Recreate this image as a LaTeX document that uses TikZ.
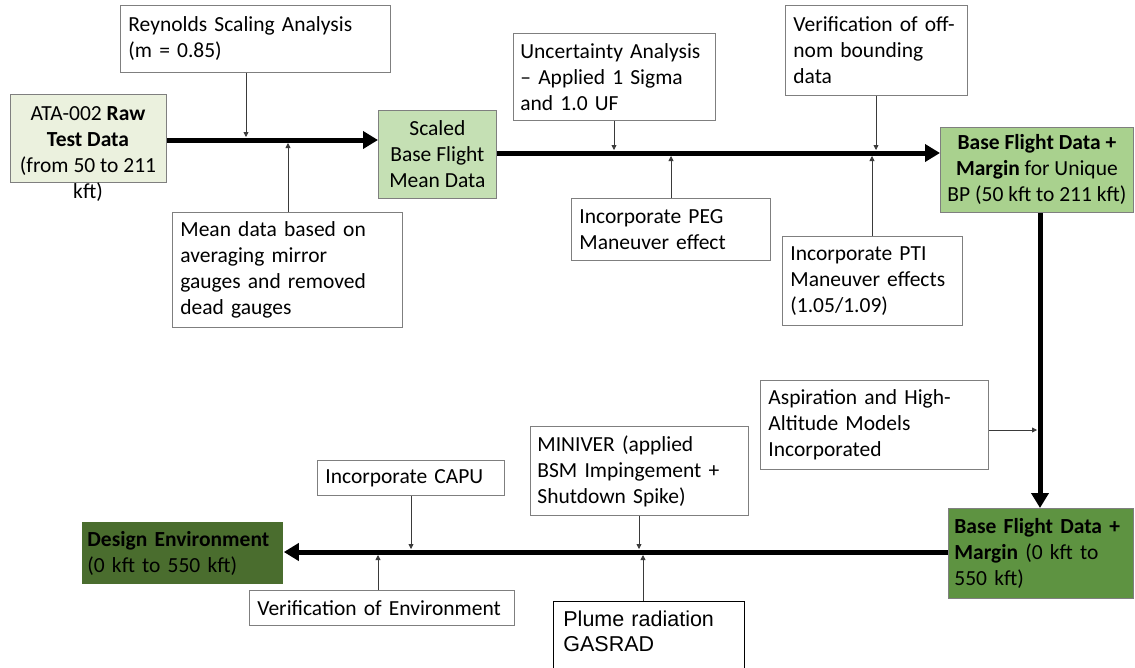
\documentclass[tikz,border=0pt]{standalone}
\usepackage{fontspec}
\setmainfont{Carlito}
\newfontfamily\arialf{Liberation Sans}
\usetikzlibrary{arrows.meta}
\definecolor{bgray}{HTML}{7F7F7F}
\definecolor{lgreen}{HTML}{EBF1DE}
\definecolor{sgreen}{HTML}{C5E0B4}
\definecolor{bgreen}{HTML}{A9D18E}
\definecolor{mgreen}{HTML}{5E9341}
\definecolor{dgreen}{HTML}{4A6D2E}
\definecolor{thin}{HTML}{3A3A3A}
\tikzset{
  wbox/.style={draw=bgray, fill=white, line width=0.8pt, inner xsep=8pt, inner ysep=0pt, align=left, anchor=north west},
  gbox/.style={draw=bgray, line width=0.8pt, inner xsep=6pt, inner ysep=0pt, anchor=north west},
  thinarrow/.style={draw=thin, line width=0.8pt, -{Triangle[length=5pt,width=5pt]}},
  thickarrow/.style={draw=black, line width=5pt, -{Triangle[length=15pt,width=17pt]}}
}
\begin{document}
\begin{tikzpicture}[x=1pt,y=-1pt,font=\fontsize{21.5}{26}\selectfont]
\useasboundingbox (0,0) rectangle (1135,667);
\clip (0,0) rectangle (1135,667);
% main boxes
\node[gbox, fill=lgreen, minimum width=156pt, minimum height=88pt] (ata) at (10,94) {};
\node[align=center, inner sep=0pt] (atat) at (88,154) {ATA-002 \textbf{Raw}\\\textbf{Test Data}\\(from 50 to 211\\kft)};
\node[gbox, fill=sgreen, minimum width=118pt, minimum height=88pt, align=center] (scaled) at (378,110) {Scaled\\Base Flight\\Mean Data};
\node[gbox, fill=bgreen, minimum width=193pt, minimum height=85pt, inner xsep=3pt, align=center] (base) at (940,127) {\textbf{Base Flight Data +}\\\textbf{Margin} for Unique\\BP (50 kft to 211 kft)};
\node[gbox, fill=mgreen, minimum width=185pt, minimum height=90pt, text width=173pt, align=left] (bfm) at (948,508) {\textbf{Base Flight Data +}\\\textbf{Margin} (0 kft to\\550 kft)};
\node[gbox, fill=dgreen, draw=none, minimum width=201pt, minimum height=62pt, text width=191pt, inner xsep=5pt, align=left] (des) at (82,522) {\textbf{Design Environment}\\(0 kft to 550 kft)};
% side boxes
\node[wbox, minimum width=270pt, minimum height=67pt, text width=254pt] (rey) at (120,5) {Reynolds Scaling Analysis\\(m = 0.85)};
\node[wbox, minimum width=230pt, minimum height=115pt, text width=214pt] (mean) at (172,212) {Mean data based on\\averaging mirror\\gauges and removed\\dead gauges};
\node[wbox, minimum width=202pt, minimum height=87pt, text width=188pt, inner xsep=7pt] (unc) at (513,33) {Uncertainty Analysis\\– Applied 1 Sigma\\and 1.0 UF};
\node[wbox, minimum width=199pt, minimum height=62pt, text width=183pt] (peg) at (571,198) {Incorporate PEG\\Maneuver effect};
\node[wbox, minimum width=182pt, minimum height=90pt, text width=166pt] (ver) at (785,5) {Verification of off-\\nom bounding\\data};
\node[wbox, minimum width=180pt, minimum height=89pt, text width=164pt] (pti) at (782,236) {Incorporate PTI\\Maneuver effects\\(1.05/1.09)};
\node[wbox, minimum width=228pt, minimum height=89pt, text width=212pt] (asp) at (760,380) {Aspiration and High-\\Altitude Models\\Incorporated};
\node[wbox, minimum width=218pt, minimum height=89pt, text width=204pt, inner xsep=7pt] (mini) at (530,426) {MINIVER (applied\\BSM Impingement +\\Shutdown Spike)};
\node[wbox, minimum width=187pt, minimum height=35pt, text width=171pt] (capu) at (317,460) {Incorporate CAPU};
\node[wbox, minimum width=265pt, minimum height=35pt, text width=249pt] (venv) at (249,590) {Verification of Environment};
\node[wbox, draw=black, minimum width=187pt, minimum height=92pt, text width=171pt, inner xsep=10pt, font=\arialf\fontsize{21.5}{25}\selectfont] (plume) at (553,601) {Plume radiation\\GASRAD\\\strut};
% junction coordinates
\coordinate (j1) at (246,137);
\coordinate (j2) at (288,143);
\coordinate (j3) at (614,150);
\coordinate (j4) at (671,156);
\coordinate (j5) at (876,150);
\coordinate (j6) at (872,156);
\coordinate (j7) at (1037,430);
\coordinate (j8) at (411,549);
\coordinate (j9) at (639,549);
\coordinate (j10) at (643,555);
\coordinate (j11) at (378,555);
% thick arrows
\draw[thickarrow] (ata.east |- 0,140) -- (scaled.west |- 0,140);
\draw[thickarrow] (scaled.east |- 0,153) -- (base.west |- 0,153);
\draw[thickarrow] (base.south -| 1040,0) -- (bfm.north -| 1040,0);
\draw[thickarrow] (bfm.west |- 0,552) -- (des.east |- 0,552);
% thin arrows
\draw[thinarrow] (rey.south -| j1) -- (j1);
\draw[thinarrow] (mean.north -| j2) -- (j2);
\draw[thinarrow] (unc.south -| j3) -- (j3);
\draw[thinarrow] (peg.north -| j4) -- (j4);
\draw[thinarrow] (ver.south -| j5) -- (j5);
\draw[thinarrow] (pti.north -| j6) -- (j6);
\draw[thinarrow] (asp.east |- j7) -- (j7);
\draw[thinarrow] (capu.south -| j8) -- (j8);
\draw[thinarrow] (mini.south -| j9) -- (j9);
\draw[thinarrow] (plume.north -| j10) -- (j10);
\draw[thinarrow] (venv.north -| j11) -- (j11);
\end{tikzpicture}
\end{document}
